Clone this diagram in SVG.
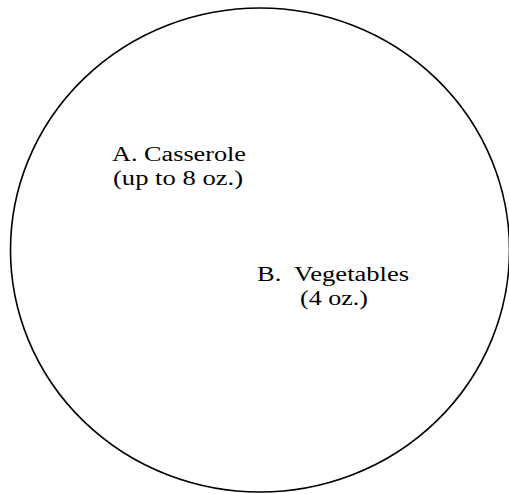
<svg xmlns="http://www.w3.org/2000/svg" width="509" height="494" viewBox="0 0 509 494">
<style>
.t{font-family:"Liberation Serif","Times New Roman",serif;font-size:20px;fill:#000}
</style>
<rect width="509" height="494" fill="#fff"/>
<g id="plate">
<ellipse cx="260" cy="250" rx="249.5" ry="242" fill="none" stroke="#000" stroke-width="1.6"/>
</g>
<g id="casserole">
<text class="t" x="112" y="161" textLength="134" lengthAdjust="spacingAndGlyphs">A. Casserole</text>
<text class="t" x="113" y="185" textLength="130" lengthAdjust="spacingAndGlyphs">(up to 8 oz.)</text>
</g>
<g id="vegetables">
<text class="t" x="257" y="281" textLength="152" lengthAdjust="spacingAndGlyphs" xml:space="preserve">B.  Vegetables</text>
<text class="t" x="300" y="305" textLength="68" lengthAdjust="spacingAndGlyphs">(4 oz.)</text>
</g>
<g id="connectors"/>
</svg>
